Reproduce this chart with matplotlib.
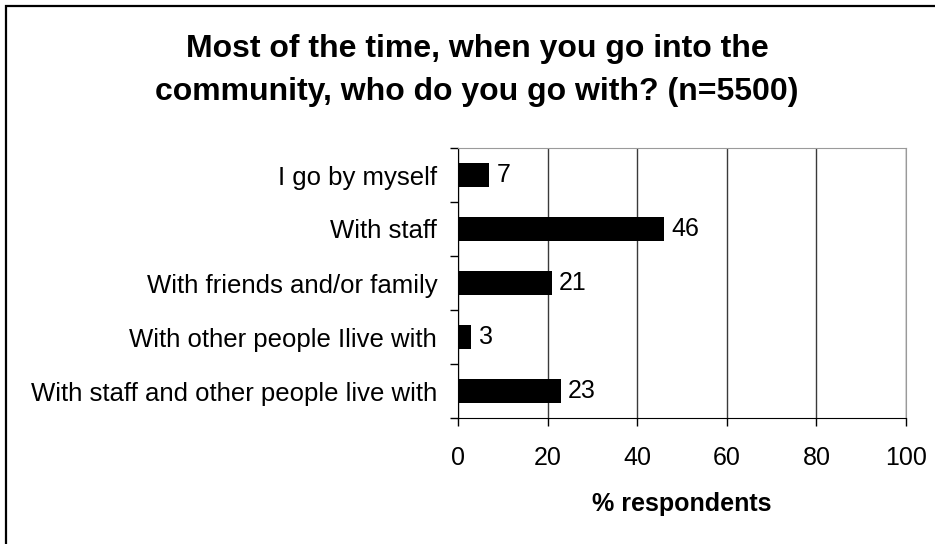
import matplotlib.pyplot as plt
from matplotlib.patches import Rectangle

plt.rcParams['font.family'] = ['Liberation Sans', 'DejaVu Sans']

title_lines = ["Most of the time, when you go into the",
               "community, who do you go with? (n=5500)"]
categories = [
    "I go by myself",
    "With staff",
    "With friends and/or family",
    "With other people Ilive with",
    "With staff and other people live with",
]
percent = [7, 46, 21, 3, 23]
x_ticks = [0, 20, 40, 60, 80, 100]

fig = plt.figure(figsize=(9.35, 5.44), dpi=100)
W, H = 935, 544

# plot area in pixels
left, right, top, bottom = 458, 906, 148, 418
ax = fig.add_axes([left / W, 1 - bottom / H, (right - left) / W, (bottom - top) / H])

ypos = list(range(len(categories)))
ax.barh(ypos, percent, height=0.43, color='black', zorder=3)
for y, v in zip(ypos, percent):
    ax.text(v + 1.6, y, str(v), va='center', ha='left', fontsize=18, zorder=4)

ax.set_ylim(len(categories) - 0.5, -0.5)
ax.set_xlim(0, 100)

# tick marks sit between categories, labels sit on the bars
ax.set_yticks([i - 0.5 for i in range(len(categories) + 1)])
ax.set_yticklabels([])
ax.set_yticks(ypos, minor=True)
ax.set_yticklabels(categories, minor=True, fontsize=18.5)
ax.tick_params(axis='y', which='minor', length=0, pad=15)
ax.tick_params(axis='y', which='major', length=6, width=1, direction='out')

ax.set_xticks(x_ticks)
ax.set_xticklabels([str(t) for t in x_ticks], fontsize=18)
ax.tick_params(axis='x', length=6, width=1, direction='out', pad=14)

ax.xaxis.grid(True, color='#3a3a3a', linewidth=1)
ax.set_axisbelow(True)
for side in ['top', 'right']:
    ax.spines[side].set_color('#9a9a9a')
for side in ['left', 'bottom']:
    ax.spines[side].set_color('black')

ax.set_xlabel("% respondents", fontsize=18, fontweight='bold', labelpad=16)

fig.text(477 / W, 1 - 57 / H, title_lines[0], ha='center', va='baseline',
         fontsize=23, fontweight='bold')
fig.text(477 / W, 1 - 100 / H, title_lines[1], ha='center', va='baseline',
         fontsize=23, fontweight='bold')

# outer frame, only top and left edges fall inside the image
fig.patches.append(Rectangle((6 / W, -0.1), 1.2, 1 - 6 / H + 0.1, transform=fig.transFigure,
                             fill=False, edgecolor='black', linewidth=1.6))

fig.savefig("out.png", dpi=100)
